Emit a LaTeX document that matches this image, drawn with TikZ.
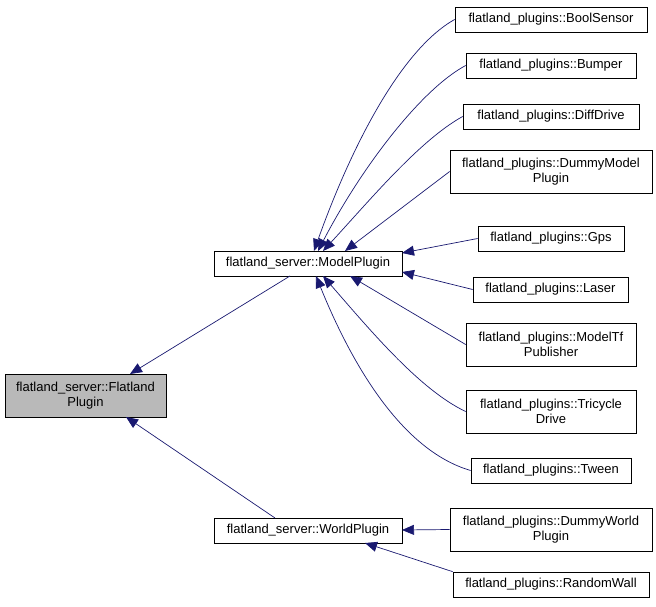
\documentclass[tikz,border=0pt]{standalone}
\usepackage{fontspec}
\setmainfont{Liberation Sans}
\usetikzlibrary{arrows.meta}
\definecolor{edge}{HTML}{191970}
\begin{document}
\begin{tikzpicture}[x=1pt,y=-1pt,
  cls/.style={draw=black,fill=white,inner sep=0pt,line width=0.7pt,font=\fontsize{13}{15}\selectfont,align=center},
  inh/.style={draw=edge,line width=0.7pt,{Triangle[length=12pt,width=10pt,fill=edge]}-}]
\useasboundingbox (0,0) rectangle (656,607);
\newcommand\bx[6]{\node[cls,minimum width=#4-#2,minimum height=#5-#3] (#1) at ({(#2+#4)/2},{(#3+#5)/2}) {#6};}
\node[cls,fill=gray!55,minimum width=161,minimum height=43] (fp) at (85.5,395.5) {flatland\_server::Flatland\\Plugin};
\bx{mp}{214}{251}{402}{276}{flatland\_server::ModelPlugin}
\bx{wp}{214}{518}{402}{543}{flatland\_server::WorldPlugin}
\bx{bs}{455}{7}{647}{32}{flatland\_plugins::BoolSensor}
\bx{bu}{466}{53}{636}{78}{flatland\_plugins::Bumper}
\bx{dd}{463}{104}{639}{129}{flatland\_plugins::DiffDrive}
\bx{dm}{450}{150}{652}{193}{flatland\_plugins::DummyModel\\Plugin}
\bx{gp}{478}{226}{624}{251}{flatland\_plugins::Gps}
\bx{la}{473}{277}{628}{302}{flatland\_plugins::Laser}
\bx{mt}{466}{323}{636}{366}{flatland\_plugins::ModelTf\\Publisher}
\bx{tr}{466}{390}{636}{433}{flatland\_plugins::Tricycle\\Drive}
\bx{tw}{471}{458}{631}{483}{flatland\_plugins::Tween}
\bx{dw}{450}{508}{652}{551}{flatland\_plugins::DummyWorld\\Plugin}
\bx{rw}{453}{572}{649}{597}{flatland\_plugins::RandomWall}
\coordinate (f1) at (130,374); \coordinate (f2) at (126,417);
\coordinate (m1) at (290,276); \coordinate (w1) at (275,518);
\draw[inh] (f1) -- (m1);
\draw[inh] (f2) -- (w1);
\draw[inh] (314,251) .. controls (350,150) and (400,50) .. (bs.west);
\draw[inh] (318,251) .. controls (360,170) and (420,90) .. (bu.west);
\draw[inh] (323,251) .. controls (370,200) and (420,140) .. (dd.west);
\draw[inh] (345,251) -- (dm.west);
\draw[inh] (402,253) -- (gp.west);
\draw[inh] (402,272) -- (la.west);
\draw[inh] (350,276) -- (mt.west);
\draw[inh] (323,276) .. controls (370,330) and (420,390) .. (tr.west);
\draw[inh] (316,276) .. controls (350,360) and (400,450) .. (tw.west);
\draw[inh] (402,530) -- (dw.west);
\draw[inh] (365,543) -- (rw.north west);
\end{tikzpicture}
\end{document}
